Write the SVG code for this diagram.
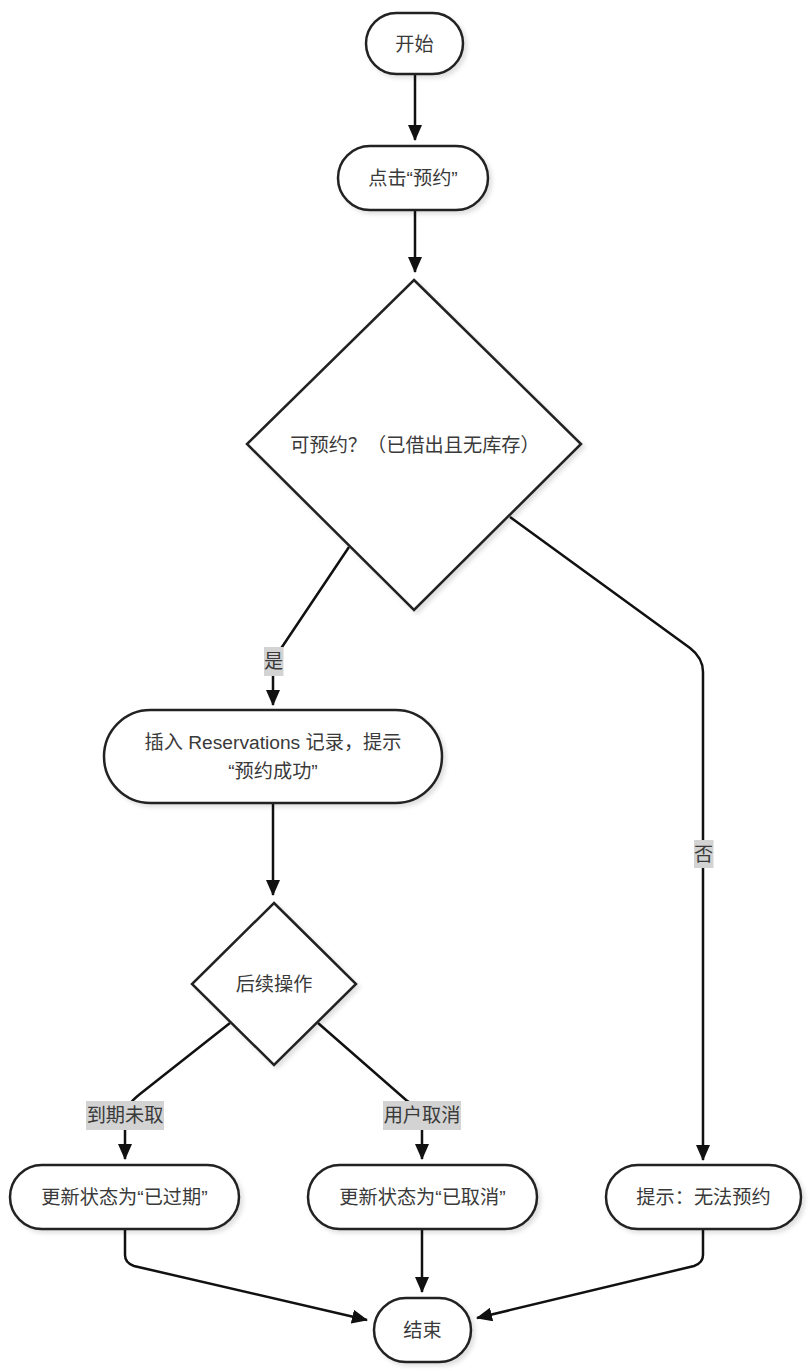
<svg xmlns="http://www.w3.org/2000/svg" width="812" height="1372" viewBox="0 0 812 1372">
<style>
.node{fill:#fff;stroke:#222;stroke-width:2.5;filter:url(#sh)}
.t{font-family:"Liberation Sans","Noto Sans CJK SC",sans-serif;font-size:19.2px;fill:#3a3a3a;text-anchor:middle;dominant-baseline:central}
.edge{fill:none;stroke:#111;stroke-width:2.5;marker-end:url(#arr)}
.lb{fill:#d3d3d3}
</style>
<defs>
<filter id="sh" x="-10%" y="-10%" width="130%" height="130%">
<feDropShadow dx="3" dy="3" stdDeviation="2" flood-color="#000" flood-opacity="0.12"/>
</filter>
<marker id="arr" viewBox="0 0 16 14" refX="15" refY="7" markerWidth="16" markerHeight="14" markerUnits="userSpaceOnUse" orient="auto">
<path d="M0,0 L16,7 L0,14 z" fill="#111"/>
</marker>
</defs>
<rect width="812" height="1372" fill="#fff"/>
<g id="connectors">
<path class="edge" d="M415,75 L415,140"/>
<path class="edge" d="M415,210 L415,272"/>
<path class="edge" d="M349,547 L280,650 Q273,660 273,668 L273,705"/>
<path class="edge" d="M510,517 L690,648 Q703,658 703,672 L703,1160"/>
<path class="edge" d="M273,803 L273,895"/>
<path class="edge" d="M230,1023 L140,1094 Q125,1106 125,1115 L125,1159"/>
<path class="edge" d="M318,1023 L406,1100 Q422,1110 422,1118 L422,1159"/>
<path class="edge" d="M125,1229 L125,1255 Q125,1263 134,1266 L367,1320"/>
<path class="edge" d="M422,1229 L422,1292"/>
<path class="edge" d="M703,1229 L703,1255 Q703,1263 694,1266 L477,1318"/>
<rect class="lb" x="264" y="647" width="19.5" height="29"/>
<text class="t" x="273.7" y="661.5">是</text>
<rect class="lb" x="694" y="840" width="19.5" height="28"/>
<text class="t" x="703.7" y="854">否</text>
<rect class="lb" x="86" y="1101" width="78" height="29"/>
<text class="t" x="125" y="1115.5">到期未取</text>
<rect class="lb" x="383" y="1101" width="78" height="29"/>
<text class="t" x="422" y="1115.5">用户取消</text>
</g>
<g id="start">
<rect class="node" x="366" y="13" width="97" height="61" rx="30.5"/>
<text class="t" x="414.5" y="44">开始</text>
</g>
<g id="click">
<rect class="node" x="338" y="146" width="150" height="64" rx="32"/>
<text class="t" x="413" y="178">点击“预约”</text>
</g>
<g id="canReserve">
<path class="node" d="M414,280 L581,444 L414,610 L247,444 Z"/>
<text class="t" x="415" y="445">可预约？（已借出且无库存）</text>
</g>
<g id="insert">
<rect class="node" x="104" y="710" width="338" height="93" rx="46.5"/>
<text class="t" x="273" y="742">插入 Reservations 记录，提示</text>
<text class="t" x="273" y="771">“预约成功”</text>
</g>
<g id="next">
<path class="node" d="M274,903 L356,984 L274,1065 L192,984 Z"/>
<text class="t" x="274" y="984">后续操作</text>
</g>
<g id="expired">
<rect class="node" x="10" y="1165" width="229" height="64" rx="32"/>
<text class="t" x="124.5" y="1197">更新状态为“已过期”</text>
</g>
<g id="cancelled">
<rect class="node" x="308" y="1165" width="229" height="64" rx="32"/>
<text class="t" x="422.5" y="1197">更新状态为“已取消”</text>
</g>
<g id="fail">
<rect class="node" x="606" y="1165" width="195" height="64" rx="32"/>
<text class="t" x="703.5" y="1197">提示：无法预约</text>
</g>
<g id="end">
<rect class="node" x="374" y="1298" width="97" height="64" rx="32"/>
<text class="t" x="422.5" y="1330">结束</text>
</g>
</svg>
